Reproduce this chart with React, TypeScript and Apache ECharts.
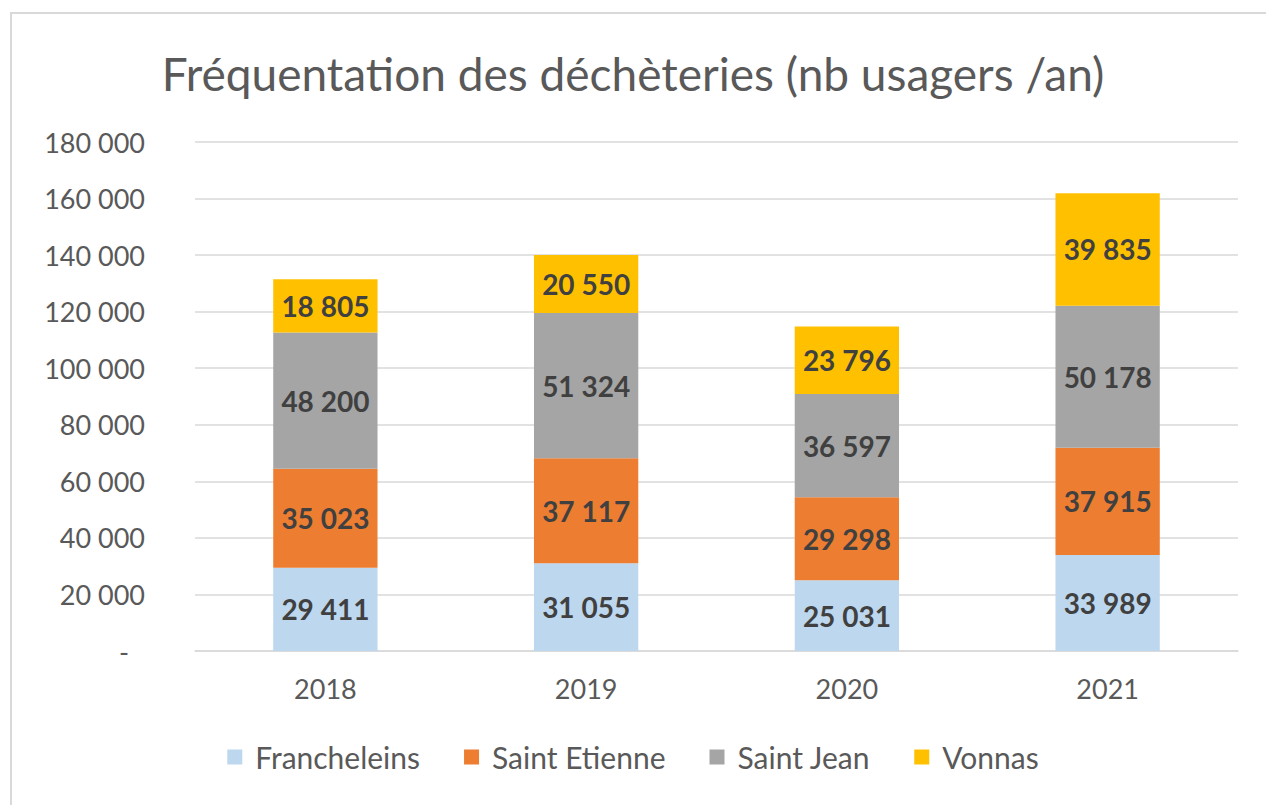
import React, { useEffect, useRef } from "react";
import * as echarts from "echarts";

const years = ["2018", "2019", "2020", "2021"];
const francheleins = [29411, 31055, 25031, 33989];
const saintEtienne = [35023, 37117, 29298, 37915];
const saintJean = [48200, 51324, 36597, 50178];
const vonnas = [18805, 20550, 23796, 39835];

const seriesNames = ["Francheleins", "Saint Etienne", "Saint Jean", "Vonnas"];
const seriesData = [francheleins, saintEtienne, saintJean, vonnas];
const colors = ["#BDD7EE", "#ED7D31", "#A5A5A5", "#FFC000"];

const FONT = "Lato, 'Open Sans', sans-serif";

function fmt(v: number): string {
  if (v === 0) return "-";
  return String(v).replace(/\B(?=(\d{3})+(?!\d))/g, " ");
}

export default function App() {
  const ref = useRef<HTMLDivElement>(null);
  useEffect(() => {
    if (!ref.current) return;
    const chart = echarts.init(ref.current, undefined, { renderer: "svg" });
    chart.setOption({
      animation: false,
      backgroundColor: "#ffffff",
      graphic: [
        {
          type: "rect",
          shape: { x: 11, y: 13, width: 1300, height: 900 },
          style: { fill: "none", stroke: "#D9D9D9", lineWidth: 2 },
          silent: true,
        },
      ],
      title: {
        text: "Fréquentation des déchèteries (nb usagers /an)",
        left: "center",
        top: 45,
        textStyle: { fontFamily: FONT, fontSize: 46, fontWeight: "normal", color: "#595959" },
      },
      legend: {
        bottom: 28,
        left: "center",
        itemWidth: 15,
        itemHeight: 15,
        itemGap: 44,
        icon: "rect",
        textStyle: { fontFamily: FONT, fontSize: 30, color: "#595959", padding: [0, 0, 0, 8] },
        data: seriesNames,
      },
      grid: { left: 195, right: 28, top: 142, bottom: 154, containLabel: false },
      xAxis: {
        type: "category",
        data: years,
        axisLine: { lineStyle: { color: "#D9D9D9", width: 1.5 } },
        axisTick: { show: false },
        axisLabel: { fontFamily: FONT, fontSize: 27, color: "#595959", margin: 24 },
      },
      yAxis: {
        type: "value",
        min: 0,
        max: 180000,
        interval: 20000,
        axisLine: { show: false },
        axisTick: { show: false },
        splitLine: { lineStyle: { color: "#D9D9D9", width: 1.5 } },
        axisLabel: {
          fontFamily: FONT,
          fontSize: 27,
          color: "#595959",
          margin: 50,
          formatter: (v: number) => (v === 0 ? "{d|-}" : fmt(v)),
          rich: { d: { fontFamily: FONT, fontSize: 27, color: "#595959", padding: [0, 16, 0, 0] } },
        },
      },
      series: seriesNames.map((name, i) => ({
        name,
        type: "bar",
        stack: "total",
        barWidth: "40%",
        data: seriesData[i],
        itemStyle: { color: colors[i] },
        label: {
          show: true,
          position: "inside",
          fontFamily: FONT,
          fontSize: 28,
          fontWeight: "bold",
          color: "#404040",
          formatter: (p: any) => fmt(p.value),
        },
      })),
    });
    return () => chart.dispose();
  }, []);
  return (
    <div
      ref={ref}
      style={{ position: "absolute", left: 0, top: 0, width: 1266, height: 805 }}
    />
  );
}
